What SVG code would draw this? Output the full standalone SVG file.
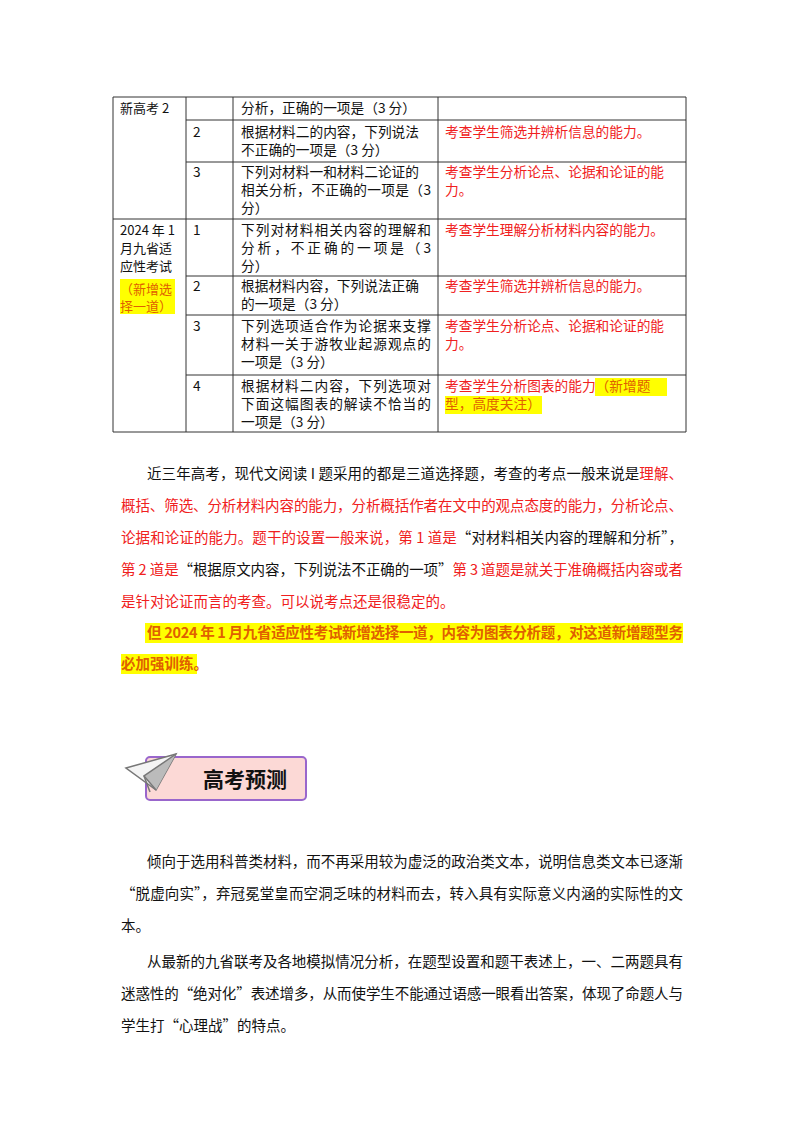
<svg xmlns="http://www.w3.org/2000/svg" width="800" height="1132" viewBox="0 0 800 1132">
<style>
text{font-family:"Noto Sans CJK SC","Liberation Serif",serif;font-size:13.7px;fill:#111}
.p{font-size:14.5px}
.r{fill:#f02020}
.o{fill:#e06000;font-weight:bold}
.hl{fill:#ffff00}
.ln{stroke:#333;stroke-width:1;fill:none}
</style>
<rect width="800" height="1132" fill="#fff"/>
<g id="table">
<path class="ln" d="M113 97H686V432H113Z M186 97V432 M233 97V432 M438 97V432 M186 120H686 M186 162H686 M113 219H686 M186 276H686 M186 315H686 M186 375H686"/>
<text x="120" y="113" style="font-size:13px">新高考 2</text>
<text x="241" y="113">分析，正确的一项是（3 分）</text>
<text x="193" y="137">2</text>
<text x="241" y="137">根据材料二的内容，下列说法</text>
<text x="241" y="155">不正确的一项是（3 分）</text>
<text class="r" x="445" y="137">考查学生筛选并辨析信息的能力。</text>
<text x="193" y="177">3</text>
<text x="241" y="177">下列对材料一和材料二论证的</text>
<text x="241" y="195" textLength="190">相关分析，不正确的一项是（3</text>
<text x="241" y="213">分）</text>
<text class="r" x="445" y="177">考查学生分析论点、论据和论证的能</text>
<text class="r" x="445" y="195">力。</text>
<text x="120" y="235" style="font-size:13px">2024 年 1</text>
<text x="120" y="253" style="font-size:13px">月九省适</text>
<text x="120" y="271" style="font-size:13px">应性考试</text>
<rect class="hl" x="120" y="279" width="55" height="35"/>
<text x="120" y="294" style="fill:#e06000;font-size:13px">（新增选</text>
<text x="120" y="311" style="fill:#e06000;font-size:13px">择一道）</text>
<text x="193" y="235">1</text>
<text x="241" y="235" textLength="190">下列对材料相关内容的理解和</text>
<text x="241" y="253" textLength="190">分析，不正确的一项是（3</text>
<text x="241" y="271">分）</text>
<text class="r" x="445" y="235">考查学生理解分析材料内容的能力。</text>
<text x="193" y="291">2</text>
<text x="241" y="291">根据材料内容，下列说法正确</text>
<text x="241" y="309">的一项是（3 分）</text>
<text class="r" x="445" y="291">考查学生筛选并辨析信息的能力。</text>
<text x="193" y="331">3</text>
<text x="241" y="331" textLength="190">下列选项适合作为论据来支撑</text>
<text x="241" y="349" textLength="190">材料一关于游牧业起源观点的</text>
<text x="241" y="367">一项是（3 分）</text>
<text class="r" x="445" y="331">考查学生分析论点、论据和论证的能</text>
<text class="r" x="445" y="349">力。</text>
<text x="193" y="391">4</text>
<text x="241" y="391" textLength="190">根据材料二内容，下列选项对</text>
<text x="241" y="409" textLength="190">下面这幅图表的解读不恰当的</text>
<text x="241" y="427">一项是（3 分）</text>
<rect class="hl" x="595" y="378" width="72" height="18"/>
<rect class="hl" x="445" y="396" width="97" height="18"/>
<text class="r" x="445" y="391">考查学生分析图表的能力<tspan style="fill:#e06000">（新增题</tspan></text>
<text x="445" y="409" style="fill:#e06000">型，高度关注）</text>
</g>
<g id="para1">
<text class="p" x="147" y="479" textLength="536">近三年高考，现代文阅读 I 题采用的都是三道选择题，考查的考点一般来说是<tspan class="r">理解、</tspan></text>
<text class="p r" x="121" y="511" textLength="562">概括、筛选、分析材料内容的能力，分析概括作者在文中的观点态度的能力，分析论点、</text>
<text class="p r" x="121" y="543" textLength="562">论据和论证的能力。题干的设置一般来说，第 1 道是<tspan style="fill:#111">“对材料相关内容的理解和分析”，</tspan></text>
<text class="p r" x="121" y="575" textLength="562">第 2 道是<tspan style="fill:#111">“根据原文内容，下列说法不正确的一项”</tspan>第 3 道题是就关于准确概括内容或者</text>
<text class="p r" x="121" y="607">是针对论证而言的考查。可以说考点还是很稳定的。</text>
<rect class="hl" x="145" y="623" width="538" height="20"/>
<rect class="hl" x="121" y="654" width="76" height="20"/>
<text class="p o" x="147" y="638" textLength="536">但 2024 年 1 月九省适应性考试新增选择一道，内容为图表分析题，对这道新增题型务</text>
<text class="p o" x="121" y="669">必加强训练。</text>
</g>
<g id="banner">
<rect x="146" y="757" width="160" height="43" rx="4" fill="#fcd9d6" stroke="#9966cc" stroke-width="2"/>
<text x="245" y="787" text-anchor="middle" style="font-size:21px;font-weight:bold">高考预测</text>
<polygon points="126,768 176,754 156,790" fill="#f4f4f4" stroke="#777" stroke-width="1.5"/>
<polyline points="176,754 144,776 156,790" fill="#bbb" stroke="#777" stroke-width="1.5"/>
<line x1="144" y1="776" x2="150" y2="792" stroke="#777" stroke-width="1.5"/>
</g>
<g id="para2">
<text class="p" x="147" y="867" textLength="536">倾向于选用科普类材料，而不再采用较为虚泛的政治类文本，说明信息类文本已逐渐</text>
<text class="p" x="121" y="899" textLength="562">“脱虚向实”，弃冠冕堂皇而空洞乏味的材料而去，转入具有实际意义内涵的实际性的文</text>
<text class="p" x="121" y="931">本。</text>
<text class="p" x="147" y="967" textLength="536">从最新的九省联考及各地模拟情况分析，在题型设置和题干表述上，一、二两题具有</text>
<text class="p" x="121" y="999" textLength="562">迷惑性的“绝对化”表述增多，从而使学生不能通过语感一眼看出答案，体现了命题人与</text>
<text class="p" x="121" y="1031">学生打“心理战”的特点。</text>
</g>
</svg>
